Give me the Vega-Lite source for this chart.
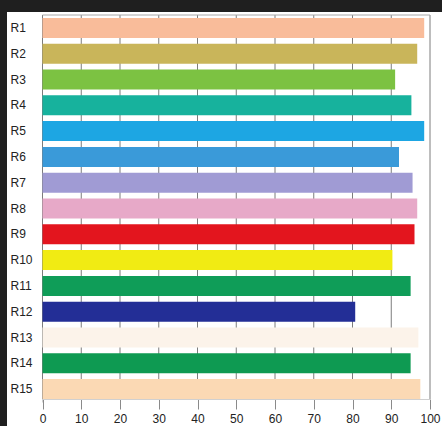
{
  "$schema": "https://vega.github.io/schema/vega-lite/v6.json",
  "autosize": "none",
  "width": 435,
  "height": 414,
  "padding": {"top": 12, "left": 7, "right": 0, "bottom": 0},
  "background": "#1f1f1f",
  "config": {
    "view": {"fill": "#ffffff", "stroke": null},
    "font": "Liberation Sans",
    "axis": {"labelFont": "Liberation Sans", "labelFontSize": 12, "labelColor": "#222222"}
  },
  "datasets": {
    "bars": [
      {"name": "R1", "value": 98.5},
      {"name": "R2", "value": 96.7},
      {"name": "R3", "value": 91.0},
      {"name": "R4", "value": 95.2},
      {"name": "R5", "value": 98.5},
      {"name": "R6", "value": 92.0},
      {"name": "R7", "value": 95.5},
      {"name": "R8", "value": 96.7},
      {"name": "R9", "value": 96.0},
      {"name": "R10", "value": 90.3},
      {"name": "R11", "value": 95.0},
      {"name": "R12", "value": 80.7},
      {"name": "R13", "value": 97.0},
      {"name": "R14", "value": 95.0},
      {"name": "R15", "value": 97.5}
    ],
    "grid": [
      {"tick": 0}, {"tick": 10}, {"tick": 20}, {"tick": 30}, {"tick": 40}, {"tick": 50},
      {"tick": 60}, {"tick": 70}, {"tick": 80}, {"tick": 90}, {"tick": 100}
    ]
  },
  "resolve": {"scale": {"y": "independent"}, "axis": {"y": "independent"}},
  "layer": [
    {
      "data": {"name": "grid"},
      "mark": {"type": "rule", "color": "#7c7c7c", "strokeWidth": 1},
      "encoding": {
        "x": {
          "field": "tick",
          "type": "quantitative",
          "scale": {"domain": [0, 100], "range": [35.5, 423], "nice": false},
          "axis": {
            "title": null,
            "orient": "bottom",
            "offset": -27,
            "values": [0, 10, 20, 30, 40, 50, 60, 70, 80, 90, 100],
            "grid": false,
            "ticks": true,
            "tickSize": 10,
            "tickColor": "#8a8a8a",
            "labelPadding": 4,
            "domain": true,
            "domainColor": "#d0d0d0",
            "labelFlush": false
          }
        },
        "y": {"datum": 0, "type": "quantitative", "scale": {"domain": [0, 1], "range": [3, 387]}, "axis": null},
        "y2": {"datum": 1}
      }
    },
    {
      "data": {"name": "grid"},
      "transform": [{"filter": "datum.tick == 0"}],
      "mark": {"type": "rule", "color": "#a8a8a8", "strokeWidth": 1},
      "encoding": {
        "x": {"datum": 0, "type": "quantitative"},
        "x2": {"datum": 100},
        "y": {"datum": 0, "type": "quantitative", "scale": {"domain": [0, 1], "range": [3, 387]}, "axis": null}
      }
    },
    {
      "data": {"name": "bars"},
      "mark": {"type": "bar"},
      "encoding": {
        "y": {
          "field": "name",
          "type": "nominal",
          "sort": null,
          "scale": {"range": [3, 390], "paddingInner": 0.225, "paddingOuter": 0.1125},
          "axis": {
            "title": null,
            "orient": "left",
            "offset": -35,
            "ticks": false,
            "tickSize": 0,
            "labelAlign": "left",
            "labelPadding": 32,
            "domain": true,
            "domainColor": "#cfcfcf",
            "grid": false
          }
        },
        "x": {
          "field": "value",
          "type": "quantitative"
        },
        "color": {
          "field": "name",
          "type": "nominal",
          "legend": null,
          "scale": {
            "domain": ["R1","R2","R3","R4","R5","R6","R7","R8","R9","R10","R11","R12","R13","R14","R15"],
            "range": ["#F9BC9A","#C9B55A","#7CC242","#17B29D","#1DA6E3","#3A9AD9","#A09BD4","#E7A9C8","#E3151E","#F1EB13","#0F9D58","#232E96","#FCF3EA","#0E9A52","#FBD9B4"]
          }
        }
      }
    }
  ]
}
